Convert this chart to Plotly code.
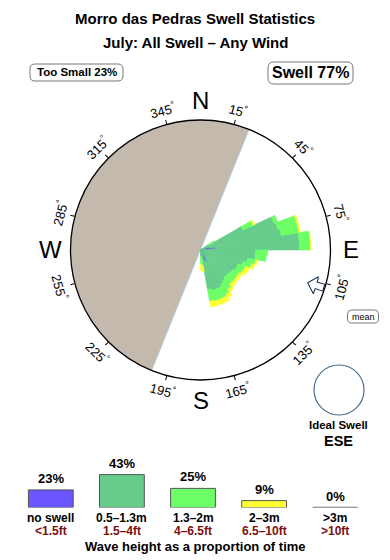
import math
import plotly.graph_objects as go

W, H = 390, 560
CX, CY, R = 200.5, 250.0, 130.0
FONT = "Liberation Sans, Arial, sans-serif"

# ---------------- data ----------------
title = "Morro das Pedras Swell Statistics"
subtitle = "July: All Swell \u2013 Any Wind"
too_small_pct = 23
swell_pct = 77
ideal_swell = "ESE"
mean_dir = 107          # mean swell direction (deg)
land_from, land_to = 202, 382   # land sector (deg, clockwise)

dir_bins = [57.5, 62.5, 67.5, 72.5, 77.5, 82.5, 87.5, 92.5, 97.5, 102.5, 107.5,
            112.5, 117.5, 122.5, 127.5, 132.5, 137.5, 142.5, 147.5, 152.5,
            157.5, 162.5, 167.5, 172.5, 177.5]
no_swell = [0, 0, 0, 8, 10, 15, 0, 0, 0, 0, 0, 0, 0, 0, 0, 0, 0, 8, 0, 13,
            11, 0, 0, 0, 0]
h_05_13 = [10, 47, 78, 72, 72, 84, 99, 55, 55, 48, 44, 40, 40, 38, 37, 36, 36,
           30, 40, 29, 31, 42, 40, 8, 6]
h_13_2 = [6, 11, 4, 20, 18, 11, 11, 12, 11, 8, 9, 8, 7, 7, 8, 9, 9, 10, 11, 11,
          11, 11, 12, 8, 8]
h_2_3 = [0, 2, 0, 1.5, 1.5, 0.5, 0.5, 0, 0, 2, 3, 4, 4, 3, 3, 3, 4, 3, 4, 5, 5,
         5, 6, 6, 6]
h_3p = [0] * len(dir_bins)

tick_angles = [15, 45, 75, 105, 135, 165, 195, 225, 255, 285, 315, 345]
cardinals = ["N", "E", "S", "W"]
cardinal_angles = [0, 90, 180, 270]

legend_pct = [23, 43, 25, 9, 0]
legend_m = ["no swell", "0.5\u20131.3m", "1.3\u20132m", "2\u20133m", ">3m"]
legend_ft = ["<1.5ft", "1.5\u20134ft", "4\u20136.5ft", "6.5\u201310ft", ">10ft"]
colors = ["#6a55ff", "#66cc8c", "#6cff66", "#ffff33", "#e07070"]


def pp(x, y):
    return x / W, 1 - y / H


def polar_px(b, r):
    a = math.radians(b)
    return CX + r * math.sin(a), CY - r * math.cos(a)


fig = go.Figure()

# land
fig.add_trace(go.Barpolar(r=[R], theta=[(land_from + land_to) / 2],
                          width=[land_to - land_from], base=0,
                          marker=dict(color="#c4b9ad",
                                      line=dict(color="#b4d6ee", width=0.8)),
                          showlegend=False, hoverinfo="skip"))

for k, (vals, col) in enumerate(zip([no_swell, h_05_13, h_13_2, h_2_3, h_3p], colors)):
    fig.add_trace(go.Barpolar(r=vals, theta=dir_bins, width=[5] * len(dir_bins),
                              marker=dict(color=col,
                                          line=dict(color=col, width=1.6 if k == 0 else 0.6)),
                              showlegend=False, hoverinfo="skip"))

# mean arrow
tip, hb, back = 112, 121, 129
ha, sa = 4.2, 1.6
arr_r = [tip, hb, hb, back, back, hb, hb, tip]
arr_t = [mean_dir, mean_dir + ha, mean_dir + sa, mean_dir + sa,
         mean_dir - sa, mean_dir - sa, mean_dir - ha, mean_dir]
fig.add_trace(go.Scatterpolar(r=arr_r, theta=arr_t, mode="lines", fill="toself",
                              fillcolor="white",
                              line=dict(color="#1f3550", width=1.1),
                              showlegend=False, hoverinfo="skip"))

dx0, dy0 = pp(CX - R, CY + R)
dx1, dy1 = pp(CX + R, CY - R)
fig.update_layout(
    width=W, height=H, margin=dict(l=0, r=0, t=0, b=0),
    paper_bgcolor="white", plot_bgcolor="white",
    font=dict(family=FONT, color="black"),
    polar=dict(
        domain=dict(x=[dx0, dx1], y=[dy0, dy1]),
        bgcolor="white", barmode="stack",
        radialaxis=dict(range=[0, R], visible=False),
        angularaxis=dict(rotation=90, direction="clockwise", showgrid=False,
                         showticklabels=False, ticks="outside", ticklen=4,
                         tickwidth=1, tickcolor="black",
                         tickmode="array", tickvals=tick_angles,
                         showline=True, linecolor="black", linewidth=1.3),
    ),
)

# legend bars (cartesian)
idx = list(range(len(legend_pct)))
bw = 0.63
fig.add_trace(go.Bar(x=idx, y=legend_pct, width=bw,
                     marker=dict(color=colors, line=dict(color="#555555", width=1)),
                     showlegend=False, hoverinfo="skip", xaxis="x", yaxis="y"))
zero = [i for i, v in enumerate(legend_pct) if v == 0]
for i in zero:
    fig.add_trace(go.Scatter(x=[i - bw / 2, i + bw / 2], y=[0, 0], mode="lines",
                             line=dict(color="#c0b0b0", width=2),
                             showlegend=False, hoverinfo="skip"))

x_left = 50.8 - 71.1 / 2
fig.update_layout(
    xaxis=dict(domain=[x_left / W, (x_left + 5 * 71.1) / W], range=[-0.5, 4.5],
               visible=False, fixedrange=True),
    yaxis=dict(domain=[1 - 507.5 / H, 1 - 457.5 / H], range=[0, 50 / 0.765],
               visible=False, fixedrange=True),
)

ann = []


def text(x, y, s, size, bold=False, color="black", angle=0, **kw):
    px_, py_ = pp(x, y)
    ann.append(dict(x=px_, y=py_, xref="paper", yref="paper", text=s,
                    showarrow=False, textangle=angle,
                    font=dict(size=size, color=color, family=FONT),
                    xanchor="center", yanchor="middle", **kw))
    if bold:
        ann[-1]["text"] = "<b>" + s + "</b>"


text(195, 18, title, 15, bold=True)
text(195, 43, subtitle, 15, bold=True)
text(76.5, 72.5, "Too Small %d%%" % too_small_pct, 11.5, bold=True)
text(310.5, 73, "Swell %d%%" % swell_pct, 16, bold=True)
text(363, 316.5, "mean", 9)
text(338, 425, "Ideal Swell", 11.5, bold=True)
text(338, 441, ideal_swell, 14.5, bold=True)

for b in tick_angles:
    x, y = polar_px(b, 145)
    if b <= 90:
        ang = b
    elif b < 270:
        ang = b - 180
    else:
        ang = b - 360
    text(x, y, "%d<sup>\u00b0</sup>" % b, 13, angle=ang)

for c, b in zip(cardinals, cardinal_angles):
    x, y = polar_px(b, 150)
    text(x, y, c, 24)

# legend labels
for i, (p, m, f) in enumerate(zip(legend_pct, legend_m, legend_ft)):
    ann.append(dict(x=i, y=p, xref="x", yref="y", text="<b>%d%%</b>" % p,
                    showarrow=False, yanchor="bottom", yshift=2,
                    font=dict(size=13, family=FONT, color="black")))
    ann.append(dict(x=i, y=1 - 518 / H, xref="x", yref="paper",
                    text="<b>%s</b>" % m.replace("<", "&lt;").replace(">", "&gt;"),
                    showarrow=False, yanchor="middle",
                    font=dict(size=12, family=FONT, color="black")))
    ann.append(dict(x=i, y=1 - 530.5 / H, xref="x", yref="paper",
                    text="<b>%s</b>" % f.replace("<", "&lt;").replace(">", "&gt;"),
                    showarrow=False, yanchor="middle",
                    font=dict(size=12, family=FONT, color="#7a1010")))
text(195, 546, "Wave height as a proportion of time", 13, bold=True)

fig.update_layout(annotations=ann)

# shapes: rounded boxes and ideal swell circle


def rbox(x0, y0, x1, y1, rad):
    def P(x, y):
        a, b = pp(x, y)
        return "%.5f,%.5f" % (a, b)
    return ("M" + P(x0 + rad, y0) + " L" + P(x1 - rad, y0) + " Q" + P(x1, y0) + " " + P(x1, y0 + rad)
            + " L" + P(x1, y1 - rad) + " Q" + P(x1, y1) + " " + P(x1 - rad, y1)
            + " L" + P(x0 + rad, y1) + " Q" + P(x0, y1) + " " + P(x0, y1 - rad)
            + " L" + P(x0, y0 + rad) + " Q" + P(x0, y0) + " " + P(x0 + rad, y0) + " Z")


shapes = []
for (x0, y0, x1, y1, rad) in [(30, 64, 123, 81, 5), (268, 62, 353, 84, 6),
                              (347.5, 310, 378.5, 323, 4)]:
    shapes.append(dict(type="path", xref="paper", yref="paper",
                       path=rbox(x0, y0, x1, y1, rad),
                       line=dict(color="#777777", width=1)))
cx0, cy0 = pp(314, 415)
cx1, cy1 = pp(364, 365)
shapes.append(dict(type="circle", xref="paper", yref="paper", x0=cx0, y0=cy0,
                   x1=cx1, y1=cy1, line=dict(color="#4a6c8c", width=1.2)))
fig.update_layout(shapes=shapes)

fig.write_html("out.html")
